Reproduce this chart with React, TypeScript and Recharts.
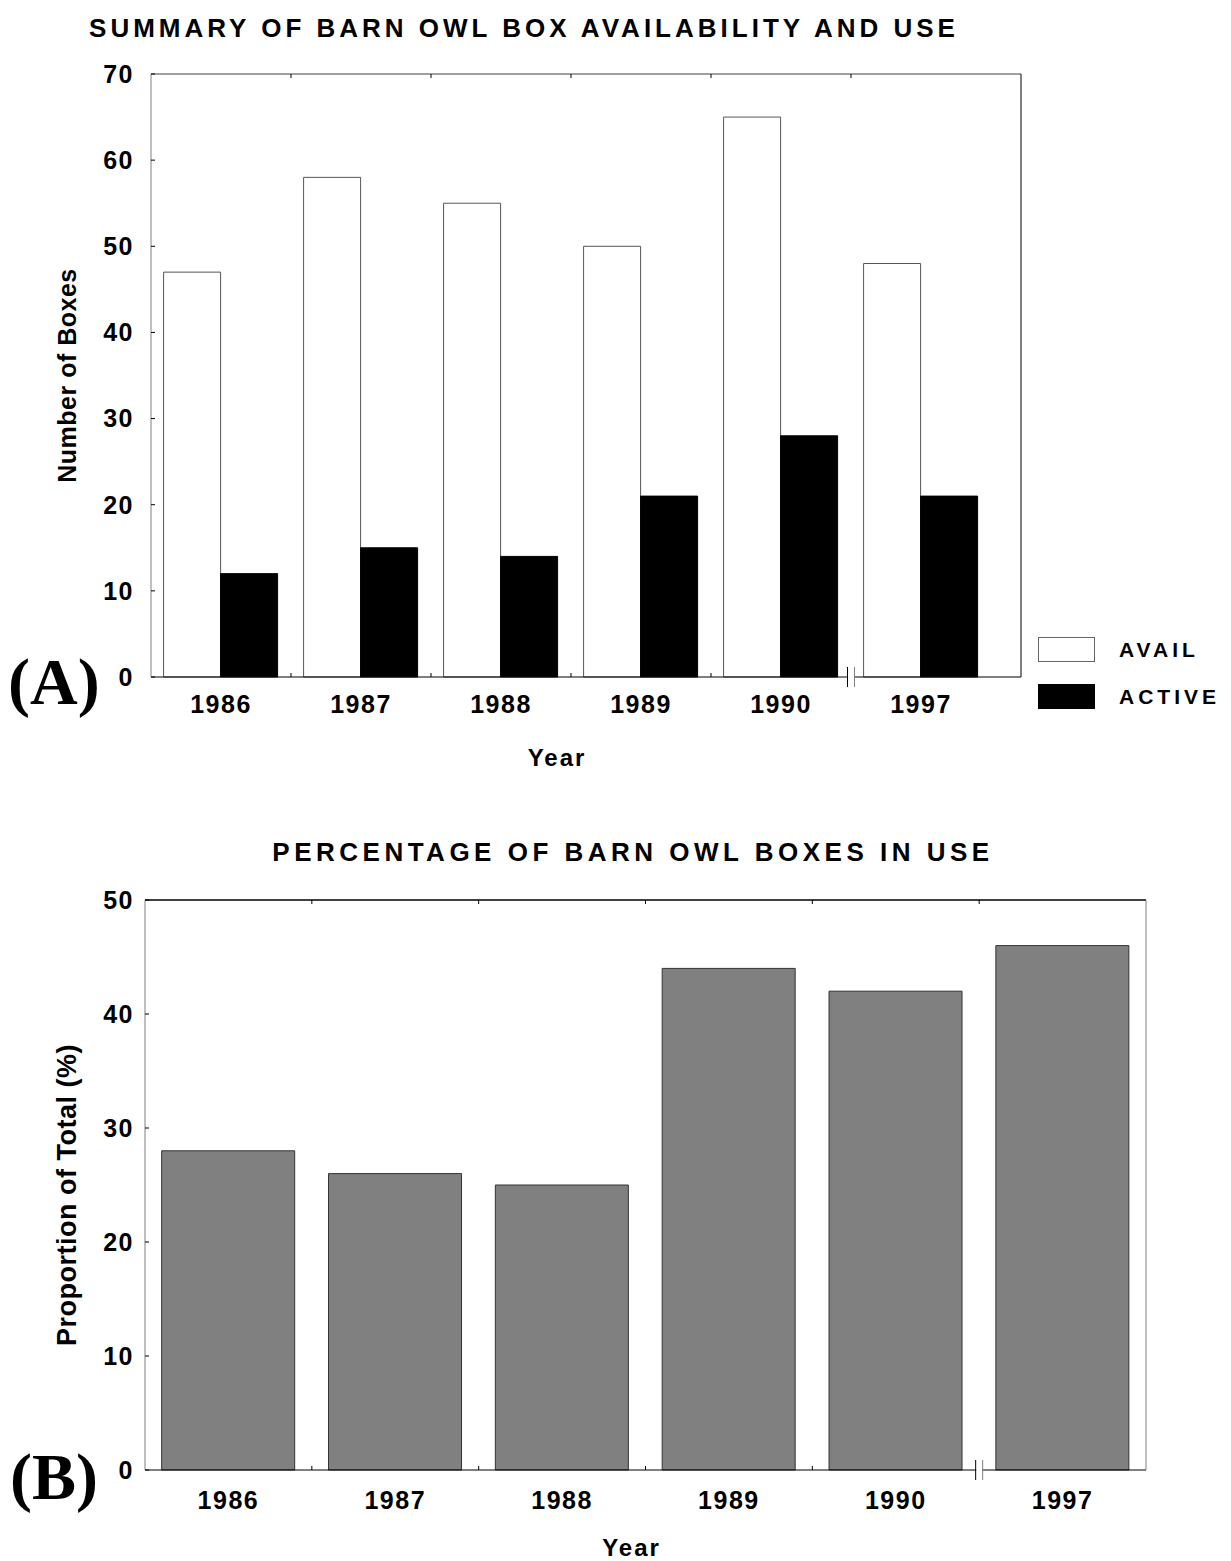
import { Bar, BarChart, Legend, ReferenceLine, XAxis, YAxis } from "recharts"

const years = ["1986", "1987", "1988", "1989", "1990", "1997"]
const availBoxes = [47, 58, 55, 50, 65, 48]
const activeBoxes = [12, 15, 14, 21, 28, 21]
const percentInUse = [28, 26, 25, 44, 42, 46]
const boxTicks = [0, 10, 20, 30, 40, 50, 60, 70]
const percentTicks = [0, 10, 20, 30, 40, 50]

const boxData = years.map((year, i) => ({ year, avail: availBoxes[i], active: activeBoxes[i] }))
const percentData = years.map((year, i) => ({ year, percent: percentInUse[i] }))

const FONT = '"Liberation Sans", Arial, Helvetica, sans-serif'
const W = 1231
const GRAY = "#808080"

const tickStyle = { fontFamily: FONT, fontWeight: "bold", fontSize: 25, fill: "#000", letterSpacing: 1.5 }

// bottom tick: year label + small inner ticks at band edges (bottom and top) + axis break before 1997
function makeYearTick(plotTop: number, plotBottom: number, band: number) {
  return function YearTick(props: any) {
    const { x, y, payload, index } = props
    const edge = x + band / 2
    const last = years.length - 1
    return (
      <g>
        <text x={x} y={y} dy="0.71em" textAnchor="middle" {...tickStyle}>
          {payload.value}
        </text>
        {index < last && <line x1={edge} x2={edge} y1={plotTop} y2={plotTop + 4} stroke="#000" />}
        {index < last - 1 && <line x1={edge} x2={edge} y1={plotBottom} y2={plotBottom - 4} stroke="#000" />}
        {index === last - 1 && (
          <g>
            <rect x={edge - 3} y={plotBottom - 2} width={6} height={4} fill="#fff" />
            <line x1={edge - 3.5} x2={edge - 3.5} y1={plotBottom - 10} y2={plotBottom + 10} stroke="#000" />
            <line x1={edge + 3.5} x2={edge + 3.5} y1={plotBottom - 10} y2={plotBottom + 10} stroke={GRAY} />
          </g>
        )}
      </g>
    )
  }
}

function BoxLegend() {
  const items = [
    { label: "AVAIL", fill: "#fff", stroke: "#666" },
    { label: "ACTIVE", fill: "#000", stroke: "#000" },
  ]
  return (
    <div>
      {items.map((it) => (
        <div key={it.label} style={{ display: "flex", alignItems: "center", height: 47 }}>
          <div style={{ width: 55, height: 23, background: it.fill, border: `1px solid ${it.stroke}` }} />
          <span style={{ marginLeft: 24, fontFamily: FONT, fontWeight: "bold", fontSize: 21, letterSpacing: 4 }}>
            {it.label}
          </span>
        </div>
      ))}
    </div>
  )
}

function ChartA() {
  const plotTop = 74
  const plotBottom = 677
  const band = (1021 - 151 - 30) / years.length
  return (
    <BarChart
      width={W}
      height={800}
      data={boxData}
      margin={{ top: plotTop, right: 200, bottom: 33, left: 0 }}
      barCategoryGap="9%"
      barGap={0}
    >
      <XAxis
        dataKey="year"
        height={90}
        padding={{ left: 0, right: 30 }}
        axisLine={{ stroke: "#000" }}
        tickLine={false}
        tickMargin={12}
        tick={makeYearTick(plotTop, plotBottom, band)}
        label={{ value: "Year", position: "insideBottom", offset: 1, dx: -29, style: { ...tickStyle, fontSize: 24, letterSpacing: 2 } }}
      />
      <YAxis
        width={151}
        domain={[0, 70]}
        ticks={boxTicks}
        interval={0}
        tickSize={-4}
        tickMargin={21}
        axisLine={{ stroke: GRAY }}
        tickLine={{ stroke: "#000" }}
        tick={tickStyle}
        label={{ value: "Number of Boxes", angle: -90, position: "center", dx: -8, style: { ...tickStyle, fontSize: 25, letterSpacing: 0.5 } }}
      />
      <YAxis
        yAxisId="right"
        orientation="right"
        width={10}
        domain={[0, 70]}
        ticks={boxTicks}
        tick={false}
        tickSize={-4}
        axisLine={{ stroke: "#000" }}
        tickLine={{ stroke: GRAY }}
      />
      <ReferenceLine y={70} stroke={GRAY} strokeWidth={1.5} />
      <Legend
        layout="vertical"
        align="center"
        verticalAlign="middle"
        content={<BoxLegend />}
        wrapperStyle={{ left: 1038, top: 626, width: 193 }}
      />
      <Bar dataKey="avail" name="AVAIL" fill="#fff" stroke="#555" isAnimationActive={false} />
      <Bar dataKey="active" name="ACTIVE" fill="#000" stroke="#000" isAnimationActive={false} />
    </BarChart>
  )
}

function ChartB() {
  const plotTop = 100
  const plotBottom = 670
  const band = (1146 - 145) / years.length
  return (
    <BarChart
      width={W}
      height={761}
      data={percentData}
      margin={{ top: plotTop, right: 75, bottom: 1, left: 0 }}
      barCategoryGap="10%"
    >
      <XAxis
        dataKey="year"
        height={90}
        axisLine={{ stroke: "#000" }}
        tickLine={false}
        tickMargin={15}
        tick={makeYearTick(plotTop, plotBottom, band)}
        label={{ value: "Year", position: "insideBottom", offset: 4, dx: -14, style: { ...tickStyle, fontSize: 24, letterSpacing: 2 } }}
      />
      <YAxis
        width={145}
        domain={[0, 50]}
        ticks={percentTicks}
        interval={0}
        tickSize={-4}
        tickMargin={15}
        axisLine={{ stroke: GRAY }}
        tickLine={{ stroke: "#000" }}
        tick={tickStyle}
        label={{ value: "Proportion of Total (%)", angle: -90, position: "center", dx: -6, dy: 10, style: { ...tickStyle, fontSize: 27, letterSpacing: 0.5 } }}
      />
      <YAxis
        yAxisId="right"
        orientation="right"
        width={10}
        domain={[0, 50]}
        ticks={percentTicks}
        tick={false}
        tickSize={-4}
        axisLine={{ stroke: GRAY }}
        tickLine={{ stroke: GRAY }}
      />
      <ReferenceLine y={50} stroke="#000" strokeWidth={1.5} />
      <Bar dataKey="percent" fill="#808080" stroke="#333" isAnimationActive={false} />
    </BarChart>
  )
}

export default function App() {
  const titleStyle = { fontFamily: FONT, fontWeight: "bold" as const, fontSize: 26 }
  const panelStyle = { fontFamily: '"Liberation Serif", "Times New Roman", serif', fontWeight: "bold" as const, fontSize: 66 }
  return (
    <div style={{ position: "absolute", left: 0, top: 0, width: W, height: 1561, background: "#fff" }}>
      <div style={{ position: "absolute", left: 0, top: 0 }}>
        <ChartA />
      </div>
      <div style={{ position: "absolute", left: 0, top: 800 }}>
        <ChartB />
      </div>
      <svg width={W} height={1561} style={{ position: "absolute", left: 0, top: 0, pointerEvents: "none" }}>
        <text x={524} y={37} textAnchor="middle" letterSpacing={4} {...titleStyle}>
          SUMMARY OF BARN OWL BOX AVAILABILITY AND USE
        </text>
        <text x={633} y={861} textAnchor="middle" letterSpacing={4.5} {...titleStyle}>
          PERCENTAGE OF BARN OWL BOXES IN USE
        </text>
        <text x={8} y={704} {...panelStyle}>
          (A)
        </text>
        <text x={10} y={1499} {...panelStyle}>
          (B)
        </text>
      </svg>
    </div>
  )
}
